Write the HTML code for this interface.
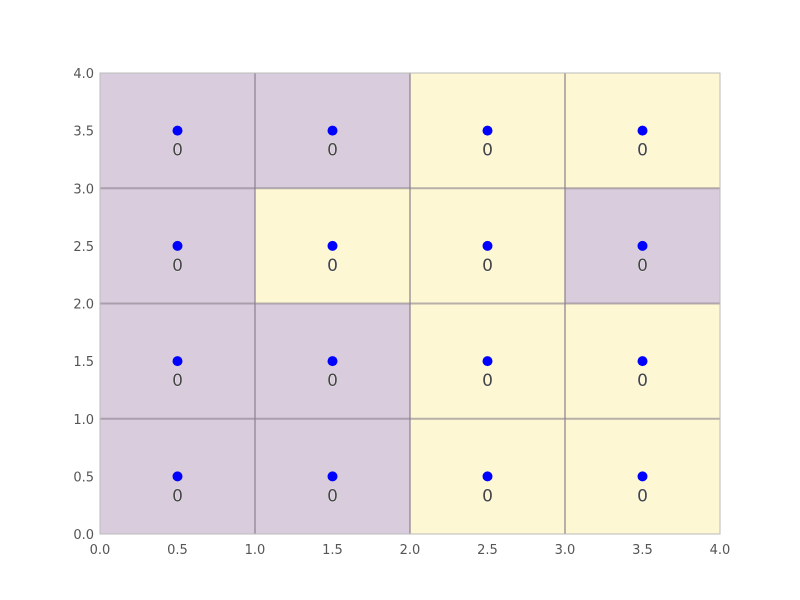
<!DOCTYPE html>
<html><head><meta charset="utf-8"><style>body{margin:0;background:#fff}svg{display:block}text{font-family:"DejaVu Sans","Liberation Sans",sans-serif}</style></head>
<body>
<svg id="chart" width="800" height="600" xmlns="http://www.w3.org/2000/svg"></svg>
<script>
const xTicks=[0,0.5,1,1.5,2,2.5,3,3.5,4];
const yTicks=[0,0.5,1,1.5,2,2.5,3,3.5,4];
// cell classes, rows from y=0 upward, columns x=0..3 (1=purple,0=yellow)
const cellClass=[[1,1,0,0],[1,1,0,0],[1,0,0,1],[1,1,0,0]];
const pointsX=[0.5,1.5,2.5,3.5];
const pointsY=[0.5,1.5,2.5,3.5];
const pointLabels=[[0,0,0,0],[0,0,0,0],[0,0,0,0],[0,0,0,0]];
const L=100,R=720,T=73,B=534;
const sx=v=>L+(v/4)*(R-L), sy=v=>B-(v/4)*(B-T);
const svg=document.getElementById('chart');const NS='http://www.w3.org/2000/svg';
function mk(t,a,p){const e=document.createElementNS(NS,t);for(const k in a)e.setAttribute(k,a[k]);(p||svg).appendChild(e);return e;}
cellClass.forEach((row,j)=>row.forEach((c,i)=>{
 const r=mk('rect',{x:sx(i),y:sy(j+1),width:sx(i+1)-sx(i),height:sy(j)-sy(j+1),fill:c?'#d9ccdc':'#fdf8d3'});
 
 
}));
for(let k=1;k<4;k++){
 const a=mk('line',{x1:sx(k),x2:sx(k),y1:T,y2:B,stroke:'#8a7f8c','stroke-opacity':0.6,'stroke-width':2});
 
 
 const b=mk('line',{x1:L,x2:R,y1:sy(k),y2:sy(k),stroke:'#8a7f8c','stroke-opacity':0.6,'stroke-width':2});
 
 
}
const fr=mk('rect',{x:L,y:T,width:R-L,height:B-T,fill:'none',stroke:'#bbb','stroke-width':1});


pointsY.forEach((py,j)=>pointsX.forEach((px,i)=>{
 const c=mk('circle',{cx:sx(px),cy:sy(py),r:5,fill:'#0000ff'});
 
 
 const t=mk('text',{x:sx(px),y:sy(py)+25,'text-anchor':'middle','font-size':17,fill:'#444',stroke:'#fff','stroke-width':0.6,'paint-order':'stroke'});
 t.textContent=pointLabels[j][i];
 
 
}));
xTicks.forEach(v=>{
 const t=mk('text',{x:sx(v),y:B+20,'text-anchor':'middle','font-size':13,fill:'#555'});
 t.textContent=v.toFixed(1);
 
 
});
yTicks.forEach(v=>{
 const t=mk('text',{x:L-6,y:sy(v)+5,'text-anchor':'end','font-size':13,fill:'#555'});
 t.textContent=v.toFixed(1);
 
 
});
</script>
</body></html>
